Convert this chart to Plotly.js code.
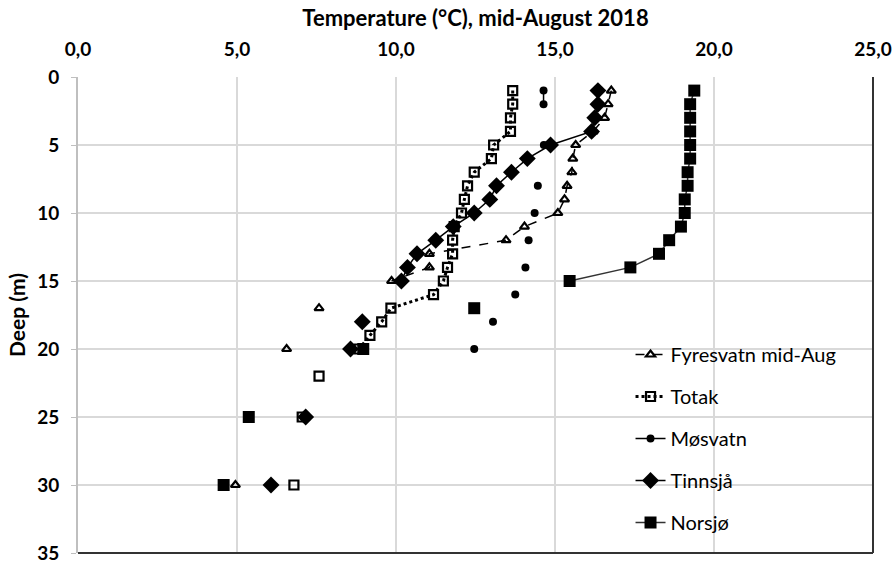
<!DOCTYPE html>
<html>
<head>
<meta charset="utf-8">
<script src="https://cdn.plot.ly/plotly-3.0.1.min.js"></script>
<style>html,body{margin:0;padding:0;background:#fff}#chart{width:896px;height:564px}</style>
</head>
<body>
<div id="chart"></div>
<script>
// Depth rows (m) shared by all series; null = no measurement (breaks the line)
const depths = [1,2,3,4,5,6,7,8,9,10,11,12,13,14,15,16,17,18,19,20,21,22,23,24,25,26,27,28,29,30];

const fyresvatn = [16.77,16.67,16.56,16.2,15.65,15.56,15.53,15.38,15.3,15.09,14.04,13.46,11.05,11.05,9.86,null,7.58,null,null,6.56,null,null,null,null,null,null,null,null,null,4.95];
const totak     = [13.67,13.67,13.6,13.6,13.07,13.0,12.46,12.25,12.15,12.06,11.83,11.78,11.78,11.62,11.49,11.18,9.84,9.55,9.18,8.84,null,7.58,null,null,7.05,null,null,null,null,6.79];
const mosvatn   = [14.64,14.64,null,null,14.65,null,null,14.46,null,14.36,null,14.17,null,14.07,null,13.75,null,13.05,null,12.46,null,null,null,null,null,null,null,null,null,null];
const tinnsja   = [16.35,16.35,16.25,16.15,14.86,14.13,13.63,13.16,12.95,12.46,11.8,11.25,10.66,10.36,10.17,null,null,8.94,null,8.57,null,null,null,null,7.16,null,null,null,null,6.07];
const norsjo    = [19.38,19.25,19.25,19.25,19.25,19.25,19.17,19.17,19.08,19.08,18.96,18.59,18.27,17.37,15.46,null,12.46,null,null,8.97,null,null,null,null,5.37,null,null,null,null,4.58];

const seriesNames = ["Fyresvatn mid-Aug","Totak","Møsvatn","Tinnsjå","Norsjø"];
const xTicks = [0,5,10,15,20,25];
const yTicks = [0,5,10,15,20,25,30,35];

const FONT = "Lato, 'Open Sans', sans-serif";

function tr(name, xs, marker, line, grp){
  return {type:'scatter', mode:'lines+markers', name:name, x:xs, y:depths,
    connectgaps:false, marker:marker, line:line, legendgroup:grp, cliponaxis:false};
}

const traces = [
  tr(seriesNames[0], fyresvatn, {symbol:'triangle-up-open', size:8, color:'#000', line:{width:2.2,color:'#000'}}, {color:'#000', width:1.5, dash:'dash'}, 'g1'),
  tr(seriesNames[1], totak, {symbol:'square-open', size:9, color:'#000', line:{width:2.2,color:'#000'}}, {color:'#000', width:3, dash:'dot'}, 'g2'),
  tr(seriesNames[2], mosvatn, {symbol:'circle', size:8, color:'#000'}, {color:'#000', width:1.5}, 'g3'),
  tr(seriesNames[3], tinnsja, {symbol:'diamond', size:13, color:'#000'}, {color:'#000', width:1.5}, 'g4'),
  tr(seriesNames[4], norsjo, {symbol:'square', size:12, color:'#000'}, {color:'#333', width:1.5}, 'g5')
];

const layout = {
  width:896, height:564,
  margin:{l:78, r:23, t:77, b:11},
  paper_bgcolor:'#fff', plot_bgcolor:'#fff',
  separators:', ',
  font:{family:FONT, color:'#000'},
  showlegend:true,
  legend:{x:0.695, y:0.458, xanchor:'left', yanchor:'top', bgcolor:'rgba(0,0,0,0)',
          font:{family:FONT, size:20, color:'#000'}, tracegroupgap:13, itemwidth:30},
  xaxis:{side:'top', range:[0,25], tickvals:xTicks, tickformat:'.1f',
         showgrid:true, gridcolor:'#d9d9d9', gridwidth:2, zeroline:false, showline:false,
         ticks:'', ticklabelstandoff:16, tickfont:{family:FONT, size:19, color:'#000', weight:'bold'},
         title:{text:'Temperature (°C), mid-August 2018', standoff:4,
                font:{family:FONT, size:22, color:'#000', weight:'bold'}}},
  yaxis:{range:[35,0], tickvals:yTicks, showgrid:true, gridcolor:'#d9d9d9', gridwidth:2,
         zeroline:false, showline:true, linecolor:'#bfbfbf', linewidth:2,
         ticks:'outside', ticklen:5, tickcolor:'#bfbfbf', tickwidth:1, ticklabelstandoff:8,
         tickfont:{family:FONT, size:19, color:'#000', weight:'bold'},
         title:{text:'Deep (m)', standoff:6, font:{family:FONT, size:21, color:'#000', weight:'bold'}}},
  shapes:[
    {type:'line', xref:'paper', yref:'paper', x0:1, x1:1, y0:0, y1:1, line:{color:'#333', width:2}},
    {type:'line', xref:'paper', yref:'paper', x0:0, x1:1, y0:0, y1:0, line:{color:'#333', width:2}}
  ]
};

Plotly.newPlot('chart', traces, layout, {displayModeBar:false, staticPlot:true});
</script>
</body>
</html>
